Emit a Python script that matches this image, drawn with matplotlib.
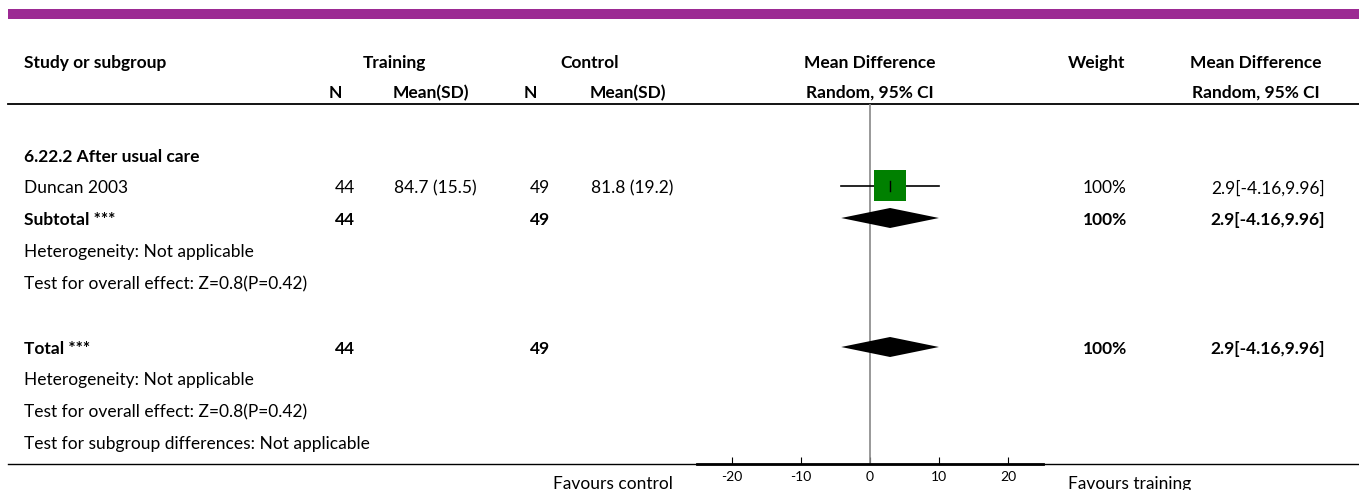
import matplotlib.pyplot as plt
from matplotlib.patches import Polygon, Rectangle

plt.rcParams['font.family'] = ['Lato', 'DejaVu Sans']
plt.rcParams['axes.unicode_minus'] = False

# data
study = "Duncan 2003"
subgroup = "6.22.2 After usual care"
n_train = 44
mean_train = "84.7 (15.5)"
n_ctrl = 49
mean_ctrl = "81.8 (19.2)"
md = 2.9
ci_lo = -4.16
ci_hi = 9.96
weight = "100%"
ticks = [-20, -10, 0, 10, 20]
xlim = (-25, 25)

W, H = 1359, 490
fig = plt.figure(figsize=(W / 100, H / 100), dpi=100)
tx = fig.add_axes([0, 0, 1, 1])
tx.set_xlim(0, W)
tx.set_ylim(H, 0)
tx.axis('off')

fs = 12.5
purple = '#9C2A93'
tx.add_patch(Rectangle((8, 9), W - 8, 10, color=purple, lw=0))

def t(x, y, s, ha='left', bold=False, size=fs):
    # small downward nudge so Lato sits like the original font
    tx.text(x, y + 2, s, ha=ha, va='center', fontsize=size,
            fontweight='bold' if bold else 'normal', color='black')

# header
t(24, 61, "Study or subgroup", bold=True)
t(394, 61, "Training", ha='center', bold=True)
t(590, 61, "Control", ha='center', bold=True)
t(870, 61, "Mean Difference", ha='center', bold=True)
t(1097, 61, "Weight", ha='center', bold=True)
t(1256, 61, "Mean Difference", ha='center', bold=True)
t(335, 91, "N", ha='center', bold=True)
t(431, 91, "Mean(SD)", ha='center', bold=True)
t(530, 91, "N", ha='center', bold=True)
t(628, 91, "Mean(SD)", ha='center', bold=True)
t(870, 91, "Random, 95% CI", ha='center', bold=True)
t(1256, 91, "Random, 95% CI", ha='center', bold=True)
tx.plot([8, W], [104, 104], color='black', lw=1.3)
tx.plot([8, W], [464, 464], color='black', lw=1.0)

rows = {'sub': 155, 'study': 186, 'subtotal': 218, 'het1': 250, 'test1': 282,
        'total': 347, 'het2': 378, 'test2': 410, 'diff': 442}
ci_txt = f"{md}[{ci_lo},{ci_hi}]"

t(24, rows['sub'], subgroup, bold=True)
t(24, rows['study'], study)
t(355, rows['study'], str(n_train), ha='right')
t(435, rows['study'], mean_train, ha='center')
t(550, rows['study'], str(n_ctrl), ha='right')
t(632, rows['study'], mean_ctrl, ha='center')
t(1127, rows['study'], weight, ha='right')
t(1325, rows['study'], ci_txt, ha='right')

for key, label in [('subtotal', "Subtotal ***"), ('total', "Total ***")]:
    y = rows[key]
    t(24, y, label, bold=True)
    t(355, y, str(n_train), ha='right', bold=True)
    t(550, y, str(n_ctrl), ha='right', bold=True)
    t(1127, y, weight, ha='right', bold=True)
    t(1325, y, ci_txt, ha='right', bold=True)

t(24, rows['het1'], "Heterogeneity: Not applicable")
t(24, rows['test1'], "Test for overall effect: Z=0.8(P=0.42)")
t(24, rows['het2'], "Heterogeneity: Not applicable")
t(24, rows['test2'], "Test for overall effect: Z=0.8(P=0.42)")
t(24, rows['diff'], "Test for subgroup differences: Not applicable")

t(613, 482, "Favours control", ha='center')
t(1130, 482, "Favours training", ha='center')

# forest axes, x in data units, y in pixel rows
x0, x1 = 697, 1043
ax = fig.add_axes([x0 / W, (H - 464) / H, (x1 - x0) / W, (464 - 104) / H])
ax.set_xlim(*xlim)
ax.set_ylim(464, 104)
ax.patch.set_alpha(0)
for s in ['top', 'left', 'right']:
    ax.spines[s].set_visible(False)
ax.spines['bottom'].set_linewidth(2.0)
ax.set_yticks([])
ax.set_xticks(ticks)
ax.tick_params(axis='x', direction='in', length=5, width=0.8, labelsize=10, pad=5)

ax.axvline(0, color='#888888', lw=1.2)

# study estimate
y = rows['study']
ax.plot([ci_lo, ci_hi], [y, y], color='black', lw=1.2)
ax.add_patch(Rectangle((md - 2.3, y - 15.5), 4.6, 31, color='#008000', lw=0, zorder=3))
ax.plot([md, md], [y - 5, y + 5], color='black', lw=1.0, zorder=4)

for key in ['subtotal', 'total']:
    y = rows[key]
    ax.add_patch(Polygon([(ci_lo, y), (md, y - 10), (ci_hi, y), (md, y + 10)],
                         closed=True, color='black', lw=0, zorder=3))

fig.savefig('out.png', dpi=100)
